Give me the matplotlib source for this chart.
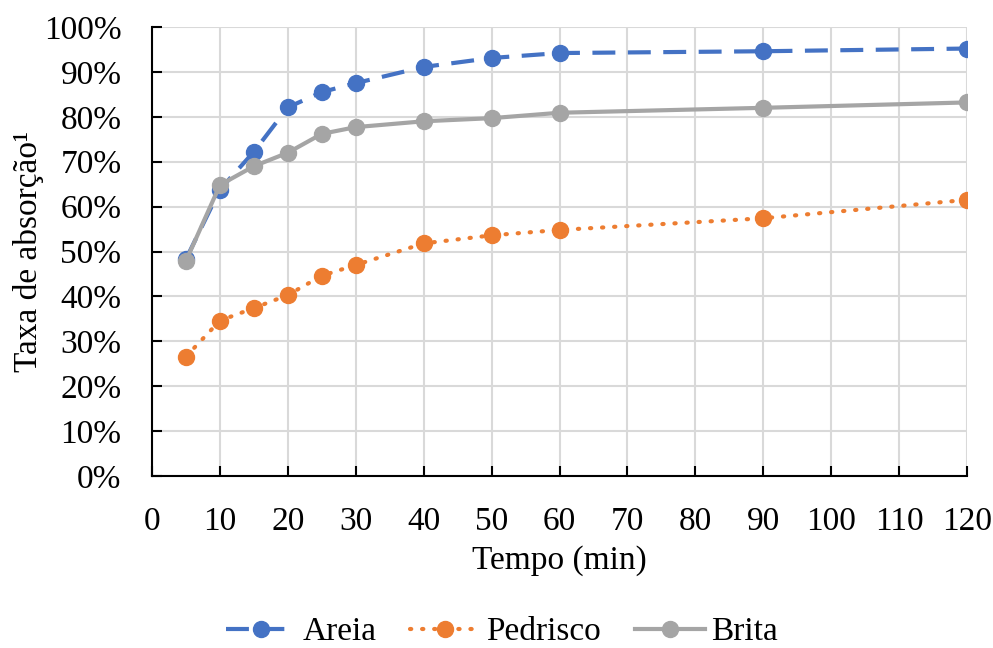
import matplotlib.pyplot as plt
from matplotlib.ticker import PercentFormatter

tempo = [5, 10, 15, 20, 25, 30, 40, 50, 60, 90, 120]
areia = [48.3, 63.8, 72.2, 82.1, 85.5, 87.5, 91.1, 93.1, 94.2, 94.6, 95.2]
pedrisco = [26.6, 34.6, 37.4, 40.3, 44.6, 47.0, 51.8, 53.6, 54.8, 57.4, 61.5]
brita = [47.9, 64.8, 69.0, 72.0, 76.2, 77.7, 79.0, 79.7, 80.9, 82.0, 83.2]

plt.rcParams['font.family'] = ['Liberation Serif', 'DejaVu Serif']
fs = 24

fig = plt.figure(figsize=(9.93, 6.48), dpi=100)
ax = fig.add_axes([152 / 993, 1 - 476 / 648, (967 - 152) / 993, (476 - 27) / 648])

ax.plot(tempo, areia, color='#4472C4', linestyle=(0, (5.5, 3)), linewidth=3,
        marker='o', markersize=11.5, label='Areia', zorder=3)
ax.plot(tempo, pedrisco, color='#ED7D31', linestyle=(0, (0.3, 2.6)), linewidth=3,
        dash_capstyle='round', marker='o', markersize=11.5, label='Pedrisco', zorder=3)
ax.plot(tempo, brita, color='#A5A5A5', linestyle='-', linewidth=3,
        marker='o', markersize=11.5, label='Brita', zorder=4)

ax.set_xlim(0, 120)
ax.set_ylim(0, 100)
ax.set_xticks(range(0, 121, 10))
ax.set_yticks(range(0, 101, 10))
ax.yaxis.set_major_formatter(PercentFormatter(decimals=0))
ax.grid(True, color='#D9D9D9', linewidth=1.5, zorder=0)
ax.set_axisbelow(True)
for s in ['top', 'right']:
    ax.spines[s].set_visible(False)
for s in ['left', 'bottom']:
    ax.spines[s].set_linewidth(1.5)
ax.tick_params(direction='in', length=7, width=1.5, labelsize=fs, pad=22)

ax.set_xlabel('Tempo (min)', fontsize=fs, labelpad=6)
ax.set_ylabel('Taxa de absorção¹', fontsize=fs, labelpad=0)

ax.legend(loc='center', bbox_to_anchor=(502 / 993, 1 - 632 / 648),
          bbox_transform=fig.transFigure, ncol=3, frameon=False,
          fontsize=fs, handlelength=2.1, columnspacing=1.0, handletextpad=0.2,
          borderpad=0)

fig.savefig('out.png', dpi=100)
